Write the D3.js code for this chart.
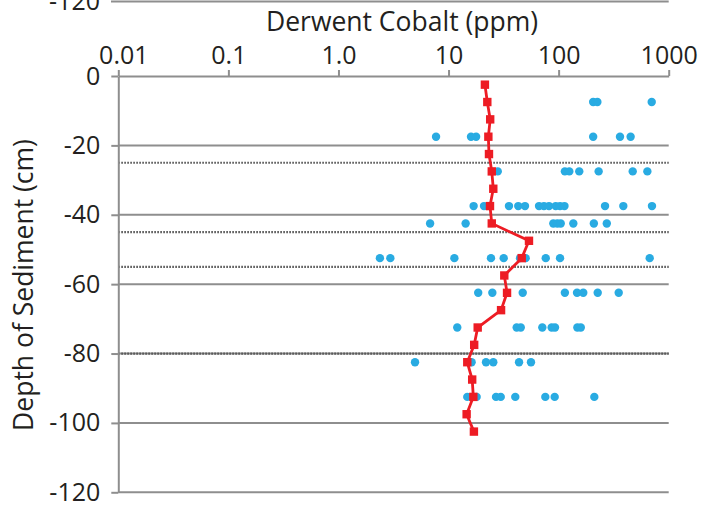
<!DOCTYPE html>
<html>
<head>
<meta charset="utf-8">
<script src="https://cdn.jsdelivr.net/npm/d3@7"></script>
<style>
  body { margin: 0; background: #fff; }
  text { font-family: "Open Sans", "Liberation Sans", sans-serif; fill: #231f20; }
</style>
</head>
<body>
<div id="chart"></div>
<script>
// x axis ticks (log scale, ppm)
var xTicks = [0.01, 0.1, 1, 10, 100, 1000];
var xTickLabels = ["0.01", "0.1", "1.0", "10", "100", "1000"];
// y axis ticks (cm)
var yTicks = [0, -20, -40, -60, -80, -100, -120];
// horizon boundaries drawn as dotted lines
var layerBreaks = [-25, -45, -55, -80];

// mean profile (red)
var meanDepth = [-2.5, -7.5, -12.5, -17.5, -22.5, -27.5, -32.5, -37.5, -42.5, -47.5, -52.5,
                 -57.5, -62.5, -67.5, -72.5, -77.5, -82.5, -87.5, -92.5, -97.5, -102.5];
var meanCobalt = [21.4, 22.5, 23.9, 23.0, 23.3, 24.7, 25.5, 23.8, 24.7, 53.8, 46.2,
                  32.1, 34.0, 30.0, 18.4, 17.1, 14.8, 16.4, 16.8, 14.6, 17.0];

// individual samples (blue)
var sampleDepth = [-7.5, -17.5, -27.5, -37.5, -42.5, -52.5, -62.5, -72.5, -82.5, -92.5];
var sampleCobalt = [
  [206, 225, 701],
  [7.7, 16.0, 17.8, 206, 361, 451],
  [28.0, 114, 125, 154, 231, 471, 640],
  [16.9, 21.0, 35.4, 43.0, 49.5, 66.4, 73.6, 81.8, 94.1, 103, 113, 264, 387, 705],
  [6.8, 14.3, 89.5, 97.3, 104.5, 136, 209, 274],
  [2.38, 2.96, 11.3, 24.3, 31.7, 44.6, 50.2, 76.4, 103, 672],
  [18.6, 25.0, 47.2, 114, 147, 167.5, 226.5, 351.5],
  [12.0, 41.6, 45.3, 71.1, 86.5, 92.7, 148, 159],
  [4.96, 16.2, 21.9, 25.5, 43.7, 56.1],
  [14.8, 18.0, 27.0, 29.8, 40.4, 75.7, 92.1, 211]
];

function init() {
    var w = 702;
    var h = 506;
    var left = 118.3, right = 668.7, top = 76, bottom = 492.3;
    var grey = "#8e8e8e";

    var svg = d3.select("#chart")
               .append("svg")
               .attr("width", w)
               .attr("height", h);

    var x = d3.scaleLog().domain([0.01, 1000]).range([left, right]);
    var y = d3.scaleLinear().domain([0, -120]).range([top, bottom]);

    // bit of the chart above that is cut off at the top
    svg.append("line")
        .attr("x1", 111).attr("x2", right)
        .attr("y1", 1.5).attr("y2", 1.5)
        .attr("stroke", grey).attr("stroke-width", 2);
    svg.append("text")
        .attr("x", 100).attr("y", 10)
        .attr("text-anchor", "end")
        .style("font-size", "25px")
        .text("-120");

    // gridlines
    svg.selectAll(".grid")
        .data(yTicks.slice(1))
        .enter()
        .append("line")
        .attr("class", "grid")
        .attr("x1", left).attr("x2", right)
        .attr("y1", function(d){ return y(d); })
        .attr("y2", function(d){ return y(d); })
        .attr("stroke", grey)
        .attr("stroke-width", 2);

    // dotted layer lines
    svg.selectAll(".layer")
        .data(layerBreaks)
        .enter()
        .append("line")
        .attr("class", "layer")
        .attr("x1", left).attr("x2", right)
        .attr("y1", function(d){ return y(d); })
        .attr("y2", function(d){ return y(d); })
        .attr("stroke", "#555")
        .attr("stroke-width", 2.2)
        .attr("stroke-dasharray", "1.6,1.4");

    // axes
    var xAxis = d3.axisTop(x)
        .tickValues(xTicks)
        .tickFormat(function(d, i){ return xTickLabels[i]; })
        .tickSizeInner(6)
        .tickSizeOuter(0)
        .tickPadding(6.5);
    var gx = svg.append("g")
        .attr("transform", "translate(0," + top + ")")
        .call(xAxis);
    // first label sits a little to the right in the original
    gx.select(".tick text").attr("dx", 5);

    var yAxis = d3.axisLeft(y)
        .tickValues(yTicks)
        .tickFormat(function(d){ return String(d); })
        .tickSizeInner(7)
        .tickSizeOuter(0)
        .tickPadding(11);
    var gy = svg.append("g")
        .attr("transform", "translate(" + left + ",0)")
        .call(yAxis);

    [gx, gy].forEach(function(g){
        g.select(".domain").attr("stroke", grey).attr("stroke-width", 2);
        g.selectAll(".tick line").attr("stroke", grey).attr("stroke-width", 2);
        g.selectAll(".tick text")
            .style("font-size", "25px")
            .style("font-family", "'Open Sans', sans-serif")
            .attr("fill", "#231f20");
    });

    // titles
    svg.append("text")
        .attr("x", 402).attr("y", 31)
        .attr("text-anchor", "middle")
        .style("font-size", "26.5px")
        .text("Derwent Cobalt (ppm)");
    svg.append("text")
        .attr("transform", "translate(33,285) rotate(-90)")
        .attr("text-anchor", "middle")
        .style("font-size", "26.5px")
        .text("Depth of Sediment (cm)");

    // sample points
    var samples = [];
    sampleDepth.forEach(function(dep, i){
        sampleCobalt[i].forEach(function(v){
            samples.push({depth: dep, value: v});
        });
    });
    svg.selectAll(".sample")
        .data(samples)
        .enter()
        .append("circle")
        .attr("class", "sample")
        .attr("cx", function(d){ return x(d.value); })
        .attr("cy", function(d){ return y(d.depth); })
        .attr("r", 4.2)
        .attr("fill", "#29abe2");

    // mean profile
    var profile = meanDepth.map(function(dep, i){
        return {depth: dep, value: meanCobalt[i]};
    });
    var line = d3.line()
        .x(function(d){ return x(d.value); })
        .y(function(d){ return y(d.depth); });
    svg.append("path")
        .datum(profile)
        .attr("d", line)
        .attr("fill", "none")
        .attr("stroke", "#ed1c24")
        .attr("stroke-width", 2.8);
    svg.selectAll(".mean")
        .data(profile)
        .enter()
        .append("rect")
        .attr("class", "mean")
        .attr("x", function(d){ return x(d.value) - 4.2; })
        .attr("y", function(d){ return y(d.depth) - 4.2; })
        .attr("width", 8.4)
        .attr("height", 8.4)
        .attr("fill", "#ed1c24");
}
window.onload = init;
</script>
</body>
</html>
